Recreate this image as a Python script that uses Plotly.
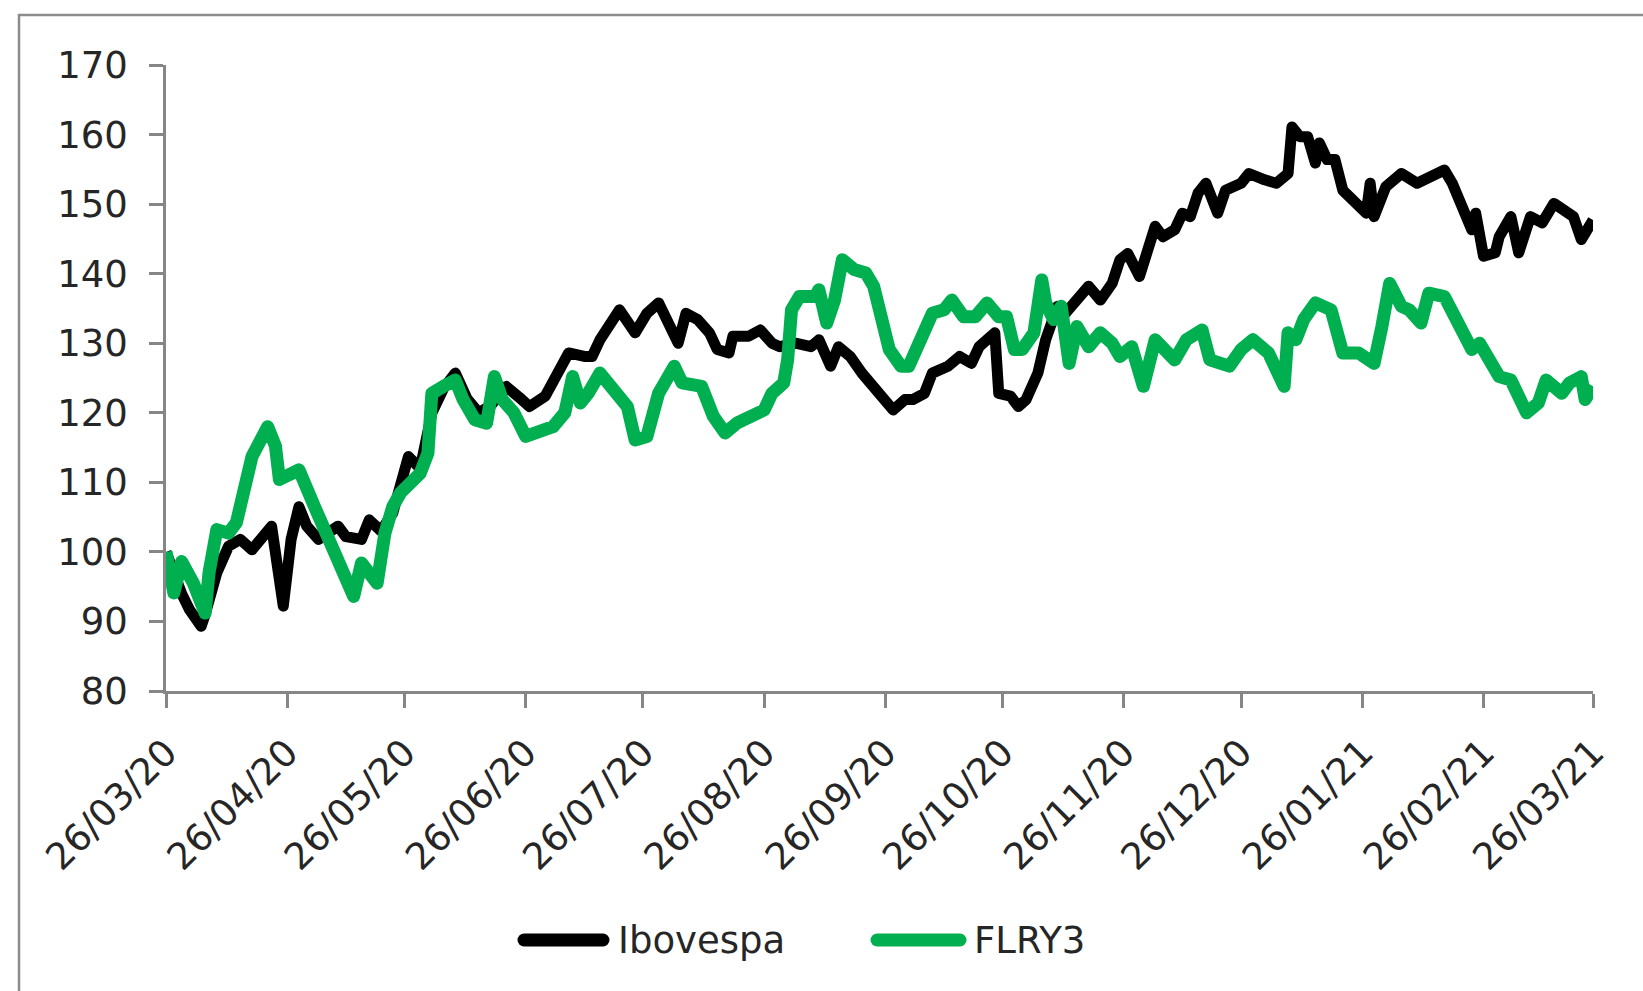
import plotly.graph_objects as go

# ---------------- data ----------------
ibov_dates = [
    "2020-03-26", "2020-03-28", "2020-03-30", "2020-04-01", "2020-04-04", "2020-04-05",
    "2020-04-08", "2020-04-11", "2020-04-14", "2020-04-17", "2020-04-19", "2020-04-22",
    "2020-04-25", "2020-04-27", "2020-04-29", "2020-05-01", "2020-05-04", "2020-05-09",
    "2020-05-11", "2020-05-15", "2020-05-17", "2020-05-20", "2020-05-23", "2020-05-27",
    "2020-05-30", "2020-06-02", "2020-06-05", "2020-06-08", "2020-06-11", "2020-06-14",
    "2020-06-17", "2020-06-21", "2020-06-25", "2020-06-27", "2020-07-01", "2020-07-04",
    "2020-07-07", "2020-07-11", "2020-07-13", "2020-07-15", "2020-07-18", "2020-07-20",
    "2020-07-24", "2020-07-27", "2020-07-30", "2020-08-01", "2020-08-04", "2020-08-06",
    "2020-08-09", "2020-08-12", "2020-08-14", "2020-08-17", "2020-08-18", "2020-08-22",
    "2020-08-25", "2020-08-28", "2020-08-30", "2020-09-03", "2020-09-07", "2020-09-09",
    "2020-09-12", "2020-09-14", "2020-09-17", "2020-09-20", "2020-09-23", "2020-09-27",
    "2020-09-28", "2020-10-01", "2020-10-03", "2020-10-06", "2020-10-08", "2020-10-12",
    "2020-10-15", "2020-10-18", "2020-10-20", "2020-10-24", "2020-10-25", "2020-10-28",
    "2020-10-30", "2020-11-01", "2020-11-04", "2020-11-06", "2020-11-09", "2020-11-11",
    "2020-11-14", "2020-11-17", "2020-11-20", "2020-11-23", "2020-11-25", "2020-11-27",
    "2020-11-30", "2020-12-02", "2020-12-04", "2020-12-06", "2020-12-09", "2020-12-11",
    "2020-12-13", "2020-12-15", "2020-12-17", "2020-12-20", "2020-12-22", "2020-12-26",
    "2020-12-28", "2021-01-01", "2021-01-04", "2021-01-07", "2021-01-08", "2021-01-10",
    "2021-01-12", "2021-01-14", "2021-01-15", "2021-01-17", "2021-01-19", "2021-01-21",
    "2021-01-25", "2021-01-27", "2021-01-28", "2021-01-29", "2021-02-01", "2021-02-05",
    "2021-02-09", "2021-02-12", "2021-02-16", "2021-02-18", "2021-02-21", "2021-02-23",
    "2021-02-24", "2021-02-26", "2021-03-01", "2021-03-02", "2021-03-05", "2021-03-07",
    "2021-03-10", "2021-03-13", "2021-03-16", "2021-03-19", "2021-03-21", "2021-03-23",
    "2021-03-26",
]
ibov_values = [
    100.0, 96.5, 94.0, 91.7, 89.3, 91.0,
    97.0, 100.8, 101.8, 100.3, 101.8, 103.7,
    92.2, 101.8, 106.5, 103.7, 101.8, 103.7,
    102.2, 101.8, 104.6, 103.0, 105.6, 113.7,
    112.0, 120.0, 123.5, 125.7, 122.0, 120.0,
    121.0, 123.8, 121.9, 120.9, 122.4, 125.2,
    128.6, 128.1, 128.1, 130.5, 132.9, 134.8,
    131.5, 134.3, 135.8, 133.4, 130.0, 134.3,
    133.4, 131.5, 129.1, 128.6, 131.0, 131.0,
    131.9, 130.0, 129.5, 130.0, 129.5, 130.5,
    126.7, 129.5, 128.1, 125.7, 123.8, 121.0,
    120.4, 121.9, 121.9, 122.8, 125.7, 126.7,
    128.1, 127.1, 129.5, 131.5, 122.8, 122.4,
    120.9, 121.9, 125.7, 130.5, 135.3, 134.3,
    136.2, 138.2, 136.2, 138.6, 142.0, 142.9,
    139.6, 143.4, 146.8, 145.3, 146.3, 148.7,
    148.2, 151.6, 153.0, 148.7, 152.0, 153.0,
    154.4, 153.5, 153.0, 154.4, 161.1, 159.7,
    159.7, 155.9, 158.8, 156.4, 156.4, 152.0,
    150.1, 148.7, 153.0, 148.2, 152.5, 154.4,
    153.0, 154.0, 154.9, 153.0, 148.7, 146.3,
    148.7, 142.5, 143.0, 145.3, 148.2, 143.0,
    148.2, 147.3, 150.1, 149.2, 148.2, 144.9,
    147.7,
]

flry_dates = [
    "2020-03-26", "2020-03-28", "2020-03-30", "2020-04-02", "2020-04-05", "2020-04-06",
    "2020-04-08", "2020-04-11", "2020-04-13", "2020-04-15", "2020-04-17", "2020-04-21",
    "2020-04-23", "2020-04-24", "2020-04-27", "2020-04-29", "2020-05-03", "2020-05-07",
    "2020-05-10", "2020-05-13", "2020-05-15", "2020-05-17", "2020-05-19", "2020-05-21",
    "2020-05-23", "2020-05-25", "2020-05-27", "2020-05-30", "2020-06-01", "2020-06-02",
    "2020-06-05", "2020-06-08", "2020-06-10", "2020-06-13", "2020-06-16", "2020-06-18",
    "2020-06-20", "2020-06-23", "2020-06-26", "2020-06-30", "2020-07-03", "2020-07-06",
    "2020-07-08", "2020-07-10", "2020-07-12", "2020-07-15", "2020-07-18", "2020-07-22",
    "2020-07-24", "2020-07-27", "2020-07-30", "2020-08-03", "2020-08-05", "2020-08-10",
    "2020-08-13", "2020-08-16", "2020-08-19", "2020-08-22", "2020-08-26", "2020-08-28",
    "2020-08-31", "2020-09-01", "2020-09-02", "2020-09-04", "2020-09-08", "2020-09-09",
    "2020-09-11", "2020-09-13", "2020-09-15", "2020-09-18", "2020-09-21", "2020-09-23",
    "2020-09-26", "2020-09-27", "2020-09-30", "2020-10-02", "2020-10-05", "2020-10-08",
    "2020-10-11", "2020-10-13", "2020-10-16", "2020-10-19", "2020-10-22", "2020-10-25",
    "2020-10-27", "2020-10-29", "2020-10-31", "2020-11-03", "2020-11-05", "2020-11-06",
    "2020-11-08", "2020-11-10", "2020-11-12", "2020-11-14", "2020-11-17", "2020-11-20",
    "2020-11-23", "2020-11-25", "2020-11-28", "2020-12-01", "2020-12-04", "2020-12-09",
    "2020-12-12", "2020-12-16", "2020-12-18", "2020-12-23", "2020-12-26", "2020-12-29",
    "2021-01-02", "2021-01-06", "2021-01-07", "2021-01-09", "2021-01-11", "2021-01-14",
    "2021-01-18", "2021-01-21", "2021-01-25", "2021-01-29", "2021-01-31", "2021-02-02",
    "2021-02-05", "2021-02-07", "2021-02-10", "2021-02-12", "2021-02-16", "2021-02-18",
    "2021-02-21", "2021-02-23", "2021-02-25", "2021-02-28", "2021-03-02", "2021-03-05",
    "2021-03-07", "2021-03-09", "2021-03-12", "2021-03-14", "2021-03-18", "2021-03-20",
    "2021-03-23", "2021-03-24", "2021-03-26",
]
flry_values = [
    100.0, 94.1, 98.6, 95.5, 91.2, 97.0,
    103.2, 102.7, 104.2, 108.5, 113.7, 118.0,
    115.2, 110.4, 111.3, 111.8, 106.5, 101.3,
    96.5, 93.6, 98.4, 97.0, 95.5, 102.7,
    106.5, 108.5, 109.4, 111.3, 114.2, 122.8,
    123.8, 124.7, 121.9, 119.0, 118.5, 125.2,
    121.9, 120.0, 116.6, 117.6, 118.0, 120.0,
    125.2, 121.4, 122.8, 125.7, 123.3, 120.9,
    116.1, 116.6, 122.8, 126.7, 124.3, 123.8,
    119.5, 117.1, 118.5, 119.5, 120.4, 122.8,
    124.3, 127.6, 134.8, 136.7, 136.7, 137.7,
    132.9, 136.2, 142.0, 140.6, 140.1, 138.2,
    132.4, 129.1, 126.7, 126.7, 130.5, 134.3,
    134.8, 136.2, 133.8, 133.8, 135.8, 133.8,
    133.8, 129.1, 129.1, 131.5, 139.1, 135.8,
    133.4, 135.3, 127.1, 132.4, 129.5, 131.5,
    130.0, 128.1, 129.5, 123.8, 130.5, 127.6,
    130.5, 131.9, 127.6, 126.7, 129.1, 130.5,
    128.6, 123.8, 131.5, 130.5, 133.4, 135.8,
    134.8, 128.6, 128.6, 127.1, 132.4, 138.6,
    135.3, 134.8, 132.9, 137.2, 136.7, 134.3,
    130.5, 129.1, 130.0, 127.1, 125.2, 124.7,
    121.9, 120.0, 121.4, 124.7, 122.8, 124.3,
    125.2, 121.9, 123.8,
]

tick_dates = [
    "2020-03-26", "2020-04-26", "2020-05-26", "2020-06-26", "2020-07-26", "2020-08-26",
    "2020-09-26", "2020-10-26", "2020-11-26", "2020-12-26", "2021-01-26", "2021-02-26",
    "2021-03-26",
]
tick_labels = [
    "26/03/20", "26/04/20", "26/05/20", "26/06/20", "26/07/20", "26/08/20",
    "26/09/20", "26/10/20", "26/11/20", "26/12/20", "26/01/21", "26/02/21",
    "26/03/21",
]
series_names = ["Ibovespa", "FLRY3"]
series_colors = ["#000000", "#00B050"]

# ---------------- figure ----------------
W, H = 1643, 991
ML, MR, MT, MB = 166, 50, 65, 300
PW, PH = W - ML - MR, H - MT - MB


def px_x(p):
    return (p - ML) / PW


def px_y(p):
    return (H - MB - p) / PH


FONT = "DejaVu Sans"
TXT = "#262626"
AX = "#868686"
FS = 37

fig = go.Figure()
fig.add_trace(go.Scatter(x=ibov_dates, y=ibov_values, mode="lines", name=series_names[0],
                         line=dict(color=series_colors[0], width=11), showlegend=False))
fig.add_trace(go.Scatter(x=flry_dates, y=flry_values, mode="lines", name=series_names[1],
                         line=dict(color=series_colors[1], width=13), showlegend=False))

fig.update_layout(
    width=W, height=H,
    margin=dict(l=ML, r=MR, t=MT, b=MB, autoexpand=False),
    paper_bgcolor="white", plot_bgcolor="white",
    font=dict(family=FONT, size=FS, color=TXT),
    showlegend=False,
)
fig.update_yaxes(
    range=[80, 170], dtick=10, tick0=80, automargin=False,
    showgrid=False, zeroline=False,
    showline=True, linecolor=AX, linewidth=2.5,
    ticks="outside", ticklen=14, tickwidth=2.5, tickcolor=AX,
    ticklabelstandoff=14,
    tickfont=dict(family=FONT, size=FS, color=TXT),
)
fig.update_xaxes(
    type="date", range=[tick_dates[0], tick_dates[-1]], automargin=False,
    tickvals=tick_dates, ticktext=tick_labels, tickangle=-45,
    showgrid=False, zeroline=False,
    showline=True, linecolor=AX, linewidth=2.5,
    ticks="outside", ticklen=14, tickwidth=2.5, tickcolor=AX,
    ticklabelstandoff=8,
    tickfont=dict(family=FONT, size=FS, color=TXT),
)

# chart border (top and left edges visible in the reference)
fig.add_shape(type="line", xref="paper", yref="paper",
              x0=px_x(19), x1=px_x(W + 5), y0=px_y(15), y1=px_y(15),
              line=dict(color="#8c8c8c", width=2.5))
fig.add_shape(type="line", xref="paper", yref="paper",
              x0=px_x(19), x1=px_x(19), y0=px_y(15), y1=px_y(H + 5),
              line=dict(color="#8c8c8c", width=2.5))

# legend drawn below the axis
legend_items = [(524, 603, 616), (877, 960, 972)]
for (a, b, t), name, col in zip(legend_items, series_names, series_colors):
    fig.add_shape(type="line", xref="paper", yref="paper",
                  x0=px_x(a), x1=px_x(b), y0=px_y(940), y1=px_y(940),
                  line=dict(color=col, width=13))
    fig.add_annotation(xref="paper", yref="paper", x=px_x(t), y=px_y(940),
                       text=name, showarrow=False, xanchor="left", yanchor="middle",
                       font=dict(family=FONT, size=FS, color=TXT))

fig.write_html(
    "out.html",
    config={"displayModeBar": False},
    post_script=(
        "document.body.style.margin='0';document.body.style.overflow='hidden';"
        "document.querySelectorAll('.js-line').forEach(function(p){p.style.strokeLinejoin='round';});"
        "document.querySelectorAll('.shapelayer path').forEach(function(p){p.style.strokeLinecap='round';});"
    ),
)
